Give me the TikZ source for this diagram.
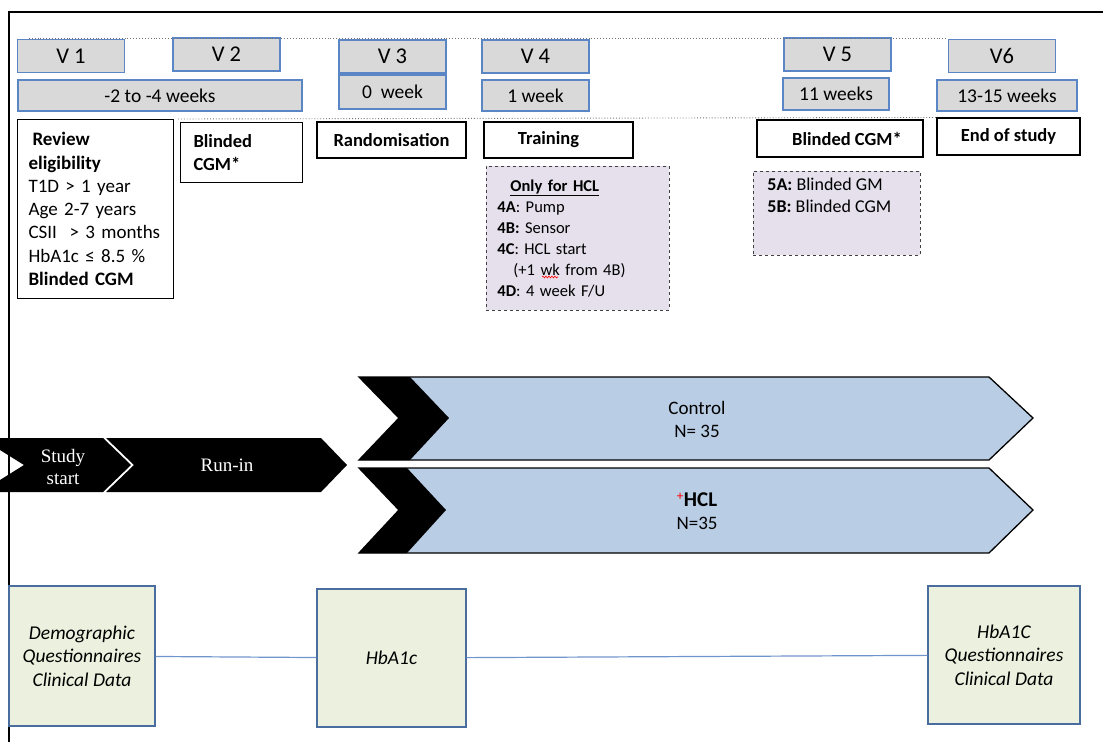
\documentclass[tikz,border=0pt]{standalone}
\usepackage{fontspec}
\setmainfont{Carlito}
\newfontfamily\timesfont{Liberation Serif}
\usetikzlibrary{calc,decorations.pathmorphing}

\definecolor{visitgray}{HTML}{D9D9D9}
\definecolor{visitblue}{HTML}{5B86C5}
\definecolor{armblue}{HTML}{B9CDE5}
\definecolor{notelilac}{HTML}{E5E0EC}
\definecolor{datagreen}{HTML}{EBF1DE}
\definecolor{databorder}{HTML}{4A6D9F}
\definecolor{linkblue}{HTML}{6F95CC}

\begin{document}
\begin{tikzpicture}[x=1pt, y=-1pt,
  visit/.style={draw=visitblue, fill=visitgray, line width=1.3pt, minimum width=107pt, minimum height=33pt, inner sep=0pt, font=\fontsize{22.5}{26}\selectfont},
  weeks/.style={visit, minimum height=31pt, font=\fontsize{19.5}{23}\selectfont},
  task/.style={draw, line width=1.1pt, minimum height=36pt, inner sep=0pt, font=\bfseries\fontsize{18.5}{23}\selectfont},
  note/.style={draw=black!75, dashed, fill=notelilac, line width=0.9pt, anchor=north west, align=left},
  arm/.style={draw, line width=1.3pt, fill=armblue},
  data/.style={draw=databorder, fill=datagreen, line width=1.1pt, align=center, inner sep=0pt, font=\itshape\fontsize{19.5}{23.5}\selectfont},
  guide/.style={draw=black!55, dotted, line width=0.9pt},
]
\useasboundingbox (0,0) rectangle (1103,742);

% frame
\draw[line width=1.6pt] (9,742) -- (9,12) -- (1103,12);

% visits
\node[visit] (v1) at (71,56) {V 1};
\node[visit] (v2) at (226.5,54.5) {V 2};
\node[visit] (v3) at (392.5,56.5) {V 3};
\node[visit] (v4) at (535.5,56.5) {V 4};
\node[visit] (v5) at (837.5,54.5) {V 5};
\node[visit] (v6) at (1002,56) {V6};

\node[weeks, minimum width=284pt] (w1) at (160,95.5) {-2 to -4 weeks};
\node[weeks, minimum height=34pt] (w3) at (392.5,92) {0~ week};
\node[weeks] (w4) at (535.5,95.5) {1 week};
\node[weeks, minimum width=106pt, minimum height=32pt] (w5) at (836,94) {11 weeks};
\node[weeks, minimum width=140pt] (w6) at (1007,95.5) {13-15 weeks};

% tasks
\node[task, anchor=north west, align=left, text width=142pt, inner xsep=7pt, minimum height=179pt, font=\fontsize{19}{23.3}\selectfont] (review) at (17,119)
  {\textbf{\hspace*{8pt}Review}\\ \hspace*{4pt}\textbf{eligibility}\\ \hspace*{4pt}T1D > 1 year\\ \hspace*{4pt}Age 2-7 years\\ \hspace*{4pt}CSII~ > 3 months\\ \hspace*{4pt}HbA1c ≤ 8.5 \%\\ \hspace*{4pt}\textbf{Blinded CGM}};
\node[task, anchor=north west, align=left, text width=96pt, inner xsep=13pt, minimum height=60pt] (blind2) at (180,122) {Blinded\\CGM*};
\node[task, minimum width=149pt] (rand) at (391.5,140) {Randomisation};
\node[task, minimum width=149pt] (train) at (558.5,140) {Training\hspace*{20pt}};
\node[task, minimum width=166pt, minimum height=37pt] (blind5) at (840,138.5) {\hspace*{14pt}Blinded CGM*};
\node[task, minimum width=143pt, minimum height=37pt] (endst) at (1008.5,136.5) {End of study};

\draw[guide] ([xshift=12pt]v1.north west) -- (v6.north west);
\draw[guide] ([xshift=4pt]review.north east) -- (endst.north west);

% notes
\node[note, text width=161pt, inner xsep=11pt, minimum height=144pt, font=\fontsize{16.5}{21}\selectfont] (hclnote) at (486,166)
  {\hspace*{13pt}\underline{\textbf{Only for HCL}}\\ \textbf{4A}: Pump\\ \textbf{4B:} Sensor\\ \textbf{4C}: HCL start\\ \hspace*{16pt}(+1 wk from 4B)\\ \textbf{4D}: 4 week F/U};
\draw[red, line width=0.6pt, decorate, decoration={snake, amplitude=0.9pt, segment length=3pt}]
  ($(hclnote.north west)+(56,111)$) -- ($(hclnote.north west)+(72,111)$);
\node[note, inner xsep=14pt, inner ysep=7pt, font=\fontsize{18}{22}\selectfont] (v5note) at (753,171)
  {\parbox[c][70pt][t]{139pt}{\textbf{5A:} Blinded GM\\ \textbf{5B:} Blinded CGM}};

% run-in
\fill (0,438) -- (103,438) -- (131,465) -- (103,492) -- (0,492) -- (0,480) -- (24,465) -- (0,450) -- cycle;
\fill (106,438) -- (321,438) -- (347,465) -- (321,492) -- (106,492) -- (134,465) -- cycle;
\node[white, align=center, font=\timesfont\fontsize{19}{21.5}\selectfont] (studytxt) at (63,467) {Study\\start};
\node[white, font=\timesfont\fontsize{19}{21.5}\selectfont] (runintxt) at (227,465) {Run-in};

% arms
\draw[arm] (359,377) -- (989,377) -- (1033,418) -- (989,460) -- (359,460) -- (399,418) -- cycle;
\fill (359,377) -- (410,377) -- (449,418) -- (410,460) -- (359,460) -- (399,418) -- cycle;
\draw[arm] (359,468) -- (989,468) -- (1033,510) -- (989,553) -- (359,553) -- (399,510) -- cycle;
\fill (359,468) -- (407,468) -- (446,510) -- (407,553) -- (359,553) -- (399,510) -- cycle;
\node[align=center, font=\fontsize{19}{23}\selectfont] (controltxt) at (697,419) {Control\\N= 35};
\node[align=center, font=\fontsize{19}{23}\selectfont] (hcltxt) at (697,511) {\textcolor{red}{\textsuperscript{+}}\textbf{\fontsize{21}{23}\selectfont HCL}\\N=35};

% measurements
\node[data, minimum width=146pt, minimum height=140pt] (demo) at (82,656) {Demographic\\Questionnaires\\Clinical Data};
\node[data, minimum width=149pt, minimum height=138pt] (hba) at (391.5,658) {HbA1c};
\node[data, minimum width=152pt, minimum height=138pt] (final) at (1004,655) {HbA1C\\Questionnaires\\Clinical Data};
\draw[linkblue, line width=1.2pt] (demo) -- (hba);
\draw[linkblue, line width=1.2pt] (hba) -- (final);

\end{tikzpicture}
\end{document}
